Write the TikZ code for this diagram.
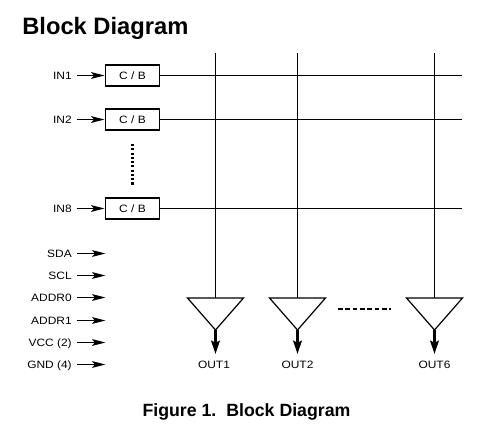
\documentclass[tikz,border=0pt]{standalone}
\usepackage{fontspec}
\usepackage{tikz}
\usetikzlibrary{arrows.meta,shapes.geometric}
\setmainfont{Liberation Sans}
\newfontfamily\pinfont[FakeStretch=1.12]{Liberation Sans}

\tikzset{
  pinlabel/.style={font=\pinfont\fontsize{8}{8}\selectfont,inner xsep=3.75pt,inner ysep=0pt,text height=5.7pt,text depth=0pt},
  inlabel/.style={pinlabel,anchor=east},
  outlabel/.style={pinlabel,inner xsep=0pt},
  cbbox/.style={draw,line width=1.4pt,minimum width=40.5pt,minimum height=16pt,inner sep=0pt,font=\pinfont\fontsize{8}{8}\selectfont},
  buffer/.style={draw,line width=0.9pt,isosceles triangle,isosceles triangle stretches,shape border rotate=270,anchor=apex,outer sep=0pt,minimum width=42pt,minimum height=24pt,inner sep=0pt},
  sigline/.style={line width=0.95pt},
  pinarrow/.style={line width=1.3pt,-{Stealth[length=10pt,width=5pt,inset=2pt]}},
  outarrow/.style={line width=1.8pt,-{Stealth[length=10pt,width=6.5pt,inset=1.5pt]}}
}

\begin{document}
\begin{tikzpicture}[x=0.75pt,y=-0.75pt]
    \useasboundingbox (0,0) rectangle (483,440);
    \node[anchor=west,inner sep=0pt,font=\bfseries\fontsize{17.8}{18}\selectfont] (title) at (22,28) {Block Diagram};
    \node[inner sep=0pt,font=\bfseries\fontsize{13.3}{14}\selectfont] (caption) at (246.5,411.5) {Figure 1.\ \ Block Diagram};

    % input channels
    \node[cbbox] (cb1) at (132.5,75.5) {C / B};
    \node[cbbox] (cb2) at (132.5,119.5) {C / B};
    \node[cbbox] (cb8) at (132.5,208.5) {C / B};
    \node[inlabel] (in1) at (77,75.5) {IN1};
    \node[inlabel] (in2) at (77,119.5) {IN2};
    \node[inlabel] (in8) at (77,208.5) {IN8};
    \draw[pinarrow] (in1.east) -- (cb1.west);
    \draw[pinarrow] (in2.east) -- (cb2.west);
    \draw[pinarrow] (in8.east) -- (cb8.west);
    \coordinate (dotstop) at (132.5,144);
    \coordinate (dotsbot) at (132.5,186);
    \draw[line width=2.2pt,dash pattern=on 1.6pt off 1.6pt] (dotstop) -- (dotsbot);

    % control pins
    \node[inlabel] (sda) at (77,253.5) {SDA};
    \node[inlabel] (scl) at (77,275.5) {SCL};
    \node[inlabel] (addr0) at (77,297.5) {ADDR0};
    \node[inlabel] (addr1) at (77,320.5) {ADDR1};
    \node[inlabel] (vcc) at (77,342.5) {VCC (2)};
    \node[inlabel] (gnd) at (77,364.5) {GND (4)};
    \coordinate (sdaend) at (105.5,253.5);
    \coordinate (sclend) at (105.5,275.5);
    \coordinate (addr0end) at (105.5,297.5);
    \coordinate (addr1end) at (105.5,320.5);
    \coordinate (vccend) at (105.5,342.5);
    \coordinate (gndend) at (105.5,364.5);
    \draw[pinarrow] (sda.east) -- (sdaend);
    \draw[pinarrow] (scl.east) -- (sclend);
    \draw[pinarrow] (addr0.east) -- (addr0end);
    \draw[pinarrow] (addr1.east) -- (addr1end);
    \draw[pinarrow] (vcc.east) -- (vccend);
    \draw[pinarrow] (gnd.east) -- (gndend);

    % outputs
    \node[buffer] (buf1) at (215.5,330) {};
    \node[buffer] (buf2) at (297.5,330) {};
    \node[buffer] (buf6) at (434.5,330) {};
    \coordinate (top1) at (215.5,53);
    \coordinate (top2) at (297.5,53);
    \coordinate (top6) at (434.5,53);
    \draw[sigline] (top1) -- (buf1.north);
    \draw[sigline] (top2) -- (buf2.north);
    \draw[sigline] (top6) -- (buf6.north);
    \coordinate (tip1) at (215.5,354);
    \coordinate (tip2) at (297.5,354);
    \coordinate (tip6) at (434.5,354);
    \draw[outarrow] (buf1.apex) -- (tip1);
    \draw[outarrow] (buf2.apex) -- (tip2);
    \draw[outarrow] (buf6.apex) -- (tip6);
    \node[outlabel] (out1) at (214,364.5) {OUT1};
    \node[outlabel] (out2) at (297.5,364.5) {OUT2};
    \node[outlabel] (out6) at (434.5,364.5) {OUT6};
    \coordinate (dashl) at (338,309);
    \coordinate (dashr) at (391,309);
    \draw[line width=1.2pt,dash pattern=on 3.6pt off 1.9pt] (dashl) -- (dashr);

    % crossbar rows
    \coordinate (row1) at (462,75.5);
    \coordinate (row2) at (462,119.5);
    \coordinate (row8) at (462,208.5);
    \draw[sigline] (cb1.east) -- (row1);
    \draw[sigline] (cb2.east) -- (row2);
    \draw[sigline] (cb8.east) -- (row8);
\end{tikzpicture}
\end{document}
